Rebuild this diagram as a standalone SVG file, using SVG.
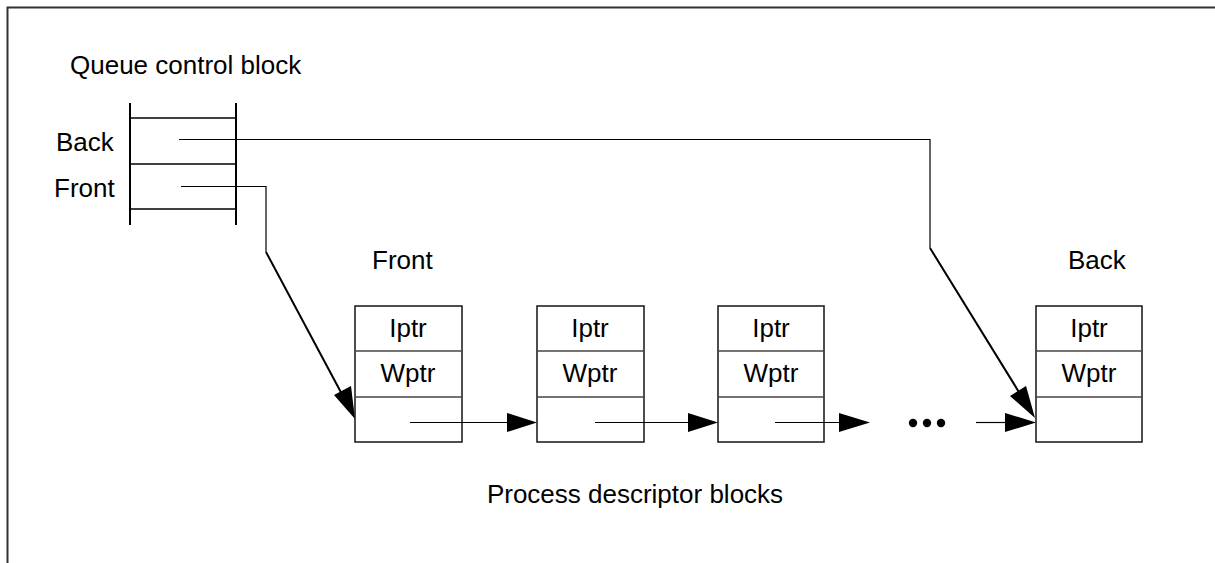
<svg xmlns="http://www.w3.org/2000/svg" width="1215" height="563" viewBox="0 0 1215 563">
<defs>
<style>
text{font-family:"Liberation Sans",Arial,sans-serif;font-size:26px;fill:#000}
.c{text-anchor:middle}
.box{fill:#fff;stroke:#222;stroke-width:1.6}
.div{stroke:#444;stroke-width:1.4}
.ln{fill:none;stroke:#000;stroke-width:1.2}
.dg{fill:none;stroke:#000;stroke-width:2}
.ah{fill:#000}
</style>
</defs>
<rect width="1215" height="563" fill="#fff"/>
<path d="M7.5,563 V7.5 H1215" fill="none" stroke="#333" stroke-width="2"/>
<g id="qcb">
<text x="70" y="74">Queue control block</text>
<line x1="130" y1="103" x2="130" y2="225" stroke="#000" stroke-width="2"/>
<line x1="236" y1="103" x2="236" y2="225" stroke="#000" stroke-width="2"/>
<line x1="130" y1="118" x2="236" y2="118" stroke="#000" stroke-width="1.3"/>
<line x1="130" y1="164" x2="236" y2="164" stroke="#000" stroke-width="1.3"/>
<line x1="130" y1="209" x2="236" y2="209" stroke="#000" stroke-width="1.3"/>
<text x="56" y="151">Back</text>
<text x="54" y="197">Front</text>
</g>
<g id="pdb1">
<text x="372" y="269">Front</text>
<rect class="box" x="355" y="306" width="107" height="136"/>
<line class="div" x1="355" y1="351" x2="462" y2="351"/>
<line class="div" x1="355" y1="397" x2="462" y2="397"/>
<text class="c" x="408" y="337">Iptr</text>
<text class="c" x="408" y="382">Wptr</text>
</g>
<g id="pdb2">
<rect class="box" x="537" y="306" width="107" height="136"/>
<line class="div" x1="537" y1="351" x2="644" y2="351"/>
<line class="div" x1="537" y1="397" x2="644" y2="397"/>
<text class="c" x="590" y="337">Iptr</text>
<text class="c" x="590" y="382">Wptr</text>
</g>
<g id="pdb3">
<rect class="box" x="718" y="306" width="106" height="136"/>
<line class="div" x1="718" y1="351" x2="824" y2="351"/>
<line class="div" x1="718" y1="397" x2="824" y2="397"/>
<text class="c" x="771" y="337">Iptr</text>
<text class="c" x="771" y="382">Wptr</text>
</g>
<g id="pdb4">
<text x="1068" y="269">Back</text>
<rect class="box" x="1036" y="306" width="106" height="136"/>
<line class="div" x1="1036" y1="351" x2="1142" y2="351"/>
<line class="div" x1="1036" y1="397" x2="1142" y2="397"/>
<text class="c" x="1089" y="337">Iptr</text>
<text class="c" x="1089" y="382">Wptr</text>
</g>
<g id="caption">
<text class="c" x="635" y="503">Process descriptor blocks</text>
</g>
<g id="connectors">
<path class="ln" d="M179,139.5 H930 V248"/>
<path class="dg" d="M930,248 L1022,397"/>
<polygon class="ah" points="1035,418 1010,396 1026,386"/>
<path class="ln" d="M181,186.5 H266 V252"/>
<path class="dg" d="M266,252 L344,398"/>
<polygon class="ah" points="355,419 334,395 351,386"/>
<line class="ln" x1="410" y1="422.5" x2="510" y2="422.5"/>
<polygon class="ah" points="537,422.5 507,413 507,432"/>
<line class="ln" x1="595" y1="422.5" x2="690" y2="422.5"/>
<polygon class="ah" points="718,422.5 688,413 688,432"/>
<line class="ln" x1="775" y1="422.5" x2="842" y2="422.5"/>
<polygon class="ah" points="870,422.5 839,413 839,432"/>
<circle class="ah" cx="913" cy="423" r="4.2"/>
<circle class="ah" cx="927" cy="423" r="4.2"/>
<circle class="ah" cx="941" cy="423" r="4.2"/>
<line class="ln" x1="976" y1="422.5" x2="1008" y2="422.5"/>
<polygon class="ah" points="1036,422.5 1005,413 1005,432"/>
</g>
</svg>
